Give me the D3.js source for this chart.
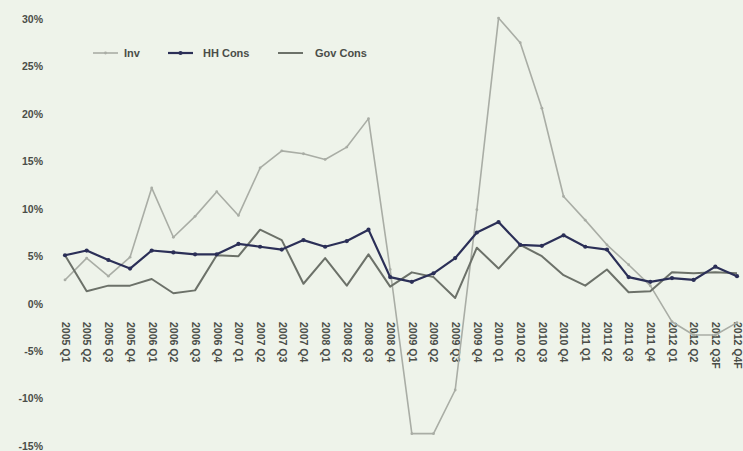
<!DOCTYPE html>
<html>
<head>
<meta charset="utf-8">
<script src="https://cdn.jsdelivr.net/npm/d3@7"></script>
<style>
  html, body { margin: 0; padding: 0; background: #eef3ea; }
  svg { display: block; }
  text { font-family: "Liberation Sans", Arial, sans-serif; }
</style>
</head>
<body>
<svg id="chart" width="743" height="451"></svg>
<script>
// Quarterly growth rates, year on year (%)
const quarters = [
  "2005 Q1","2005 Q2","2005 Q3","2005 Q4",
  "2006 Q1","2006 Q2","2006 Q3","2006 Q4",
  "2007 Q1","2007 Q2","2007 Q3","2007 Q4",
  "2008 Q1","2008 Q2","2008 Q3","2008 Q4",
  "2009 Q1","2009 Q2","2009 Q3","2009 Q4",
  "2010 Q1","2010 Q2","2010 Q3","2010 Q4",
  "2011 Q1","2011 Q2","2011 Q3","2011 Q4",
  "2012 Q1","2012 Q2","2012 Q3F","2012 Q4F"
];
const inv = [2.5, 4.8, 2.9, 4.9, 12.2, 7.0, 9.2, 11.8,
             9.3, 14.3, 16.1, 15.8, 15.2, 16.5, 19.5, 3.6,
             -13.7, -13.7, -9.1, 9.9, 30.1, 27.5, 20.6, 11.3,
             8.8, 6.2, 4.1, 1.9, -1.9, -3.3, -3.3, -2.0];
const hhCons = [5.1, 5.6, 4.6, 3.7, 5.6, 5.4, 5.2, 5.2,
                6.3, 6.0, 5.7, 6.7, 6.0, 6.6, 7.8, 2.8,
                2.3, 3.2, 4.8, 7.5, 8.6, 6.2, 6.1, 7.2,
                6.0, 5.7, 2.8, 2.3, 2.7, 2.5, 3.9, 2.9];
const govCons = [5.1, 1.3, 1.9, 1.9, 2.6, 1.1, 1.4, 5.1,
                 5.0, 7.8, 6.7, 2.1, 4.8, 1.9, 5.2, 1.8,
                 3.3, 2.8, 0.6, 5.9, 3.7, 6.2, 5.0, 3.0,
                 1.9, 3.6, 1.2, 1.3, 3.3, 3.2, 3.3, 3.2];
const yTicks = [30, 25, 20, 15, 10, 5, 0, -5, -10, -15];

const series = [
  { name: "Inv", values: inv, color: "#a9ada5", width: 1.6, marker: 1.4 },
  { name: "HH Cons", values: hhCons, color: "#2b2f57", width: 2.2, marker: 2.1 },
  { name: "Gov Cons", values: govCons, color: "#6c7169", width: 2.0, marker: 0 }
];

const svg = d3.select("#chart");

const x = d3.scalePoint().domain(quarters).range([65, 737]);
const y = d3.scaleLinear().domain([-15, 30]).range([446, 19]);

// Y axis labels only (no axis line, no ticks)
const yAxis = d3.axisLeft(y).tickValues(yTicks).tickSize(0).tickPadding(0)
  .tickFormat(d => d + "%");
svg.append("g")
  .attr("transform", "translate(43,0)")
  .call(yAxis)
  .call(g => g.select(".domain").remove())
  .call(g => g.selectAll("text")
    .attr("fill", "#4a4d48")
    .style("font-size", "10.5px")
    .style("font-weight", "bold")
    .style("font-family", "'Liberation Sans', Arial, sans-serif"));

// Category labels, rotated to read downward
const xAxis = d3.axisBottom(x).tickSize(0).tickPadding(0);
svg.append("g")
  .attr("transform", "translate(0,322)")
  .call(xAxis)
  .call(g => g.select(".domain").remove())
  .call(g => g.selectAll("text")
    .attr("transform", "rotate(90)")
    .attr("x", 0)
    .attr("y", 0)
    .attr("dy", "0.35em")
    .attr("text-anchor", "start")
    .attr("fill", "#4a4d48")
    .style("font-size", "10.5px")
    .style("font-weight", "bold")
    .style("font-family", "'Liberation Sans', Arial, sans-serif"));

const line = d3.line()
  .x((d, i) => x(quarters[i]))
  .y(d => y(d));

// Draw order: Inv underneath, then Gov Cons, then HH Cons on top
const drawOrder = [series[0], series[2], series[1]];
drawOrder.forEach(s => {
  svg.append("path")
    .datum(s.values)
    .attr("fill", "none")
    .attr("stroke", s.color)
    .attr("stroke-width", s.width)
    .attr("stroke-linejoin", "round")
    .attr("d", line);
  if (s.marker > 0) {
    svg.append("g").selectAll("circle")
      .data(s.values)
      .join("circle")
      .attr("cx", (d, i) => x(quarters[i]))
      .attr("cy", d => y(d))
      .attr("r", s.marker)
      .attr("fill", s.color);
  }
});

// Legend
const legendX = [93, 168, 278];
const legend = svg.append("g").attr("transform", "translate(0,53)");
series.forEach((s, i) => {
  const g = legend.append("g").attr("transform", `translate(${legendX[i]},0)`);
  g.append("line")
    .attr("x1", 0).attr("x2", 25).attr("y1", 0).attr("y2", 0)
    .attr("stroke", s.color).attr("stroke-width", s.width);
  if (s.marker > 0) {
    g.append("circle").attr("cx", 12.5).attr("cy", 0).attr("r", s.marker).attr("fill", s.color);
  }
  g.append("text")
    .attr("x", i === 0 ? 31 : (i === 1 ? 35 : 37))
    .attr("y", 0)
    .attr("dy", "0.35em")
    .attr("fill", "#4a4d48")
    .style("font-size", "11px")
    .style("font-weight", "bold")
    .text(s.name);
});
</script>
</body>
</html>
